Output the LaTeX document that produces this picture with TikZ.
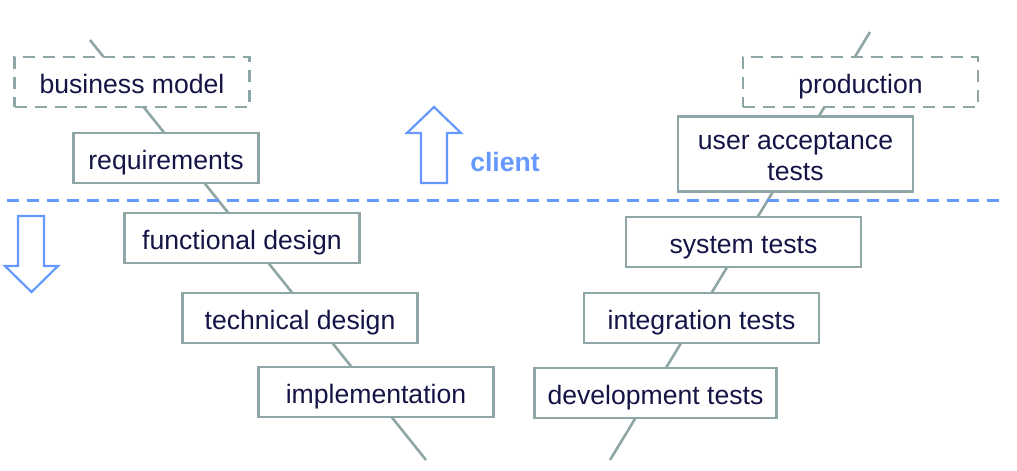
\documentclass[tikz,border=0pt]{standalone}
\usepackage{fontspec}
\setmainfont{Liberation Sans}
\usepackage{tikz}
\usetikzlibrary{positioning}
\definecolor{boxgray}{RGB}{143,166,166}
\definecolor{textnavy}{RGB}{20,20,70}
\definecolor{clientblue}{RGB}{102,153,255}

\begin{document}
\begin{tikzpicture}[x=0.5pt,y=-0.5pt,line width=1.2pt,
                    font=\fontsize{13.3}{15.5}\selectfont]
  \tikzstyle{stage}=[draw=boxgray,fill=white,text=textnavy,minimum width=117.5pt,
                     minimum height=25pt,align=center,inner sep=0pt,
                     text height=11pt,text depth=0pt]
  \tikzstyle{outside}=[stage,dash pattern=on 6pt off 4pt]
  \tikzstyle{vline}=[draw=boxgray,line width=1.3pt]
  \tikzstyle{hollow}=[draw=clientblue,line width=1.1pt,line join=miter]

  \useasboundingbox (0,0) rectangle (1017,471);

  \coordinate (Ltop) at (90,40);
  \coordinate (Lbot) at (426,460);
  \coordinate (Rtop) at (870,32);
  \coordinate (Rbot) at (610,460);
  \coordinate (Sleft) at (7,200);
  \coordinate (Sright) at (1005,200);
  \draw[vline] (Ltop) -- (Lbot);
  \draw[vline] (Rtop) -- (Rbot);

  \node[outside]         (bm)   at (132,82)  {business model};
  \node[stage,minimum width=92.5pt] (req) [below of=bm,node distance=38pt,xshift=17pt] {requirements};
  \node[stage]           (fd)   [below of=req,node distance=40pt,xshift=38pt] {functional design};
  \node[stage]           (td)   [below of=fd,node distance=40pt,xshift=29pt] {technical design};
  \node[stage]           (impl) [below of=td,node distance=37pt,xshift=38pt] {implementation};

  \node[outside]         (prod) at (860.5,82) {production};
  \node[stage,minimum height=37.5pt,text height=26.5pt] (uat) [below of=prod,node distance=36pt,xshift=-32.5pt] {user acceptance\\tests};
  \node[stage]           (st)   [below of=uat,node distance=44pt,xshift=-26pt] {system tests};
  \node[stage]           (it)   [below of=st,node distance=38pt,xshift=-21pt] {integration tests};
  \node[stage,minimum width=121pt] (dt) [below of=it,node distance=37.5pt,xshift=-23pt] {development tests};

  \draw[clientblue,line width=1.5pt,dash pattern=on 6pt off 4pt] (Sleft) -- (Sright);

  \draw[hollow] (421,183) -- (421,133) -- (407,133) -- (434,107) -- (461,133)
                -- (447,133) -- (447,183) -- cycle;
  \draw[hollow] (18,216) -- (18,266) -- (5,266) -- (31.5,292) -- (58,266)
                -- (44,266) -- (44,216) -- cycle;
  \node[text=clientblue,font=\fontsize{13.3}{15.5}\selectfont\bfseries] (client) at (505,162) {client};
\end{tikzpicture}
\end{document}
